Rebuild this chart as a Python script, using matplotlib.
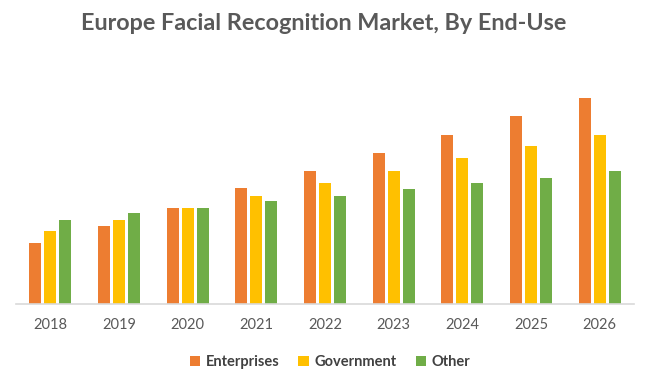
import matplotlib
matplotlib.use("Agg")
import matplotlib.pyplot as plt
import numpy as np

years = ["2018", "2019", "2020", "2021", "2022", "2023", "2024", "2025", "2026"]
enterprises = [61, 78, 96, 116, 133, 151, 169, 188, 206]
government = [73, 84, 96, 108, 121, 133, 146, 158, 169]
other = [84, 91, 96, 103, 108, 115, 121, 126, 133]
series_names = ["Enterprises", "Government", "Other"]
colors = ["#ED7D31", "#FFC000", "#70AD47"]

plt.rcParams['font.family'] = ['Lato', 'DejaVu Sans']

fig = plt.figure(figsize=(6.48, 3.83), dpi=100)
W, H = 648, 383
ax = fig.add_axes([16 / W, (H - 304) / H, (634 - 16) / W, (304 - 84) / H])

x = np.arange(len(years))
bw = 0.175
step = 0.218
for i, (vals, name, c) in enumerate(zip([enterprises, government, other], series_names, colors)):
    ax.bar(x + (i - 1) * step, vals, width=bw, color=c, label=name)

ax.set_xlim(-0.5, len(years) - 0.5)
ax.set_ylim(0, 220)
ax.set_xticks(x)
ax.set_xticklabels(years, fontsize=10.5, color="#595959")
ax.tick_params(axis='x', length=0, pad=10)
ax.set_yticks([])
for s in ["top", "right", "left"]:
    ax.spines[s].set_visible(False)
ax.spines["bottom"].set_color("#D9D9D9")
ax.spines["bottom"].set_linewidth(1.2)

fig.text(0.5, (H - 23) / H, "Europe Facial Recognition Market, By End-Use",
         ha="center", va="center", fontsize=16.8, fontweight="bold", color="#595959")

leg = fig.legend(loc="center", bbox_to_anchor=(330 / W, (H - 362) / H), ncol=3,
                 frameon=False, handlelength=0.7, handleheight=0.7, handletextpad=0.4,
                 columnspacing=1.3, prop={"size": 10.5, "weight": "bold"})
for t in leg.get_texts():
    t.set_color("#404040")

fig.savefig("out.png", dpi=100)
